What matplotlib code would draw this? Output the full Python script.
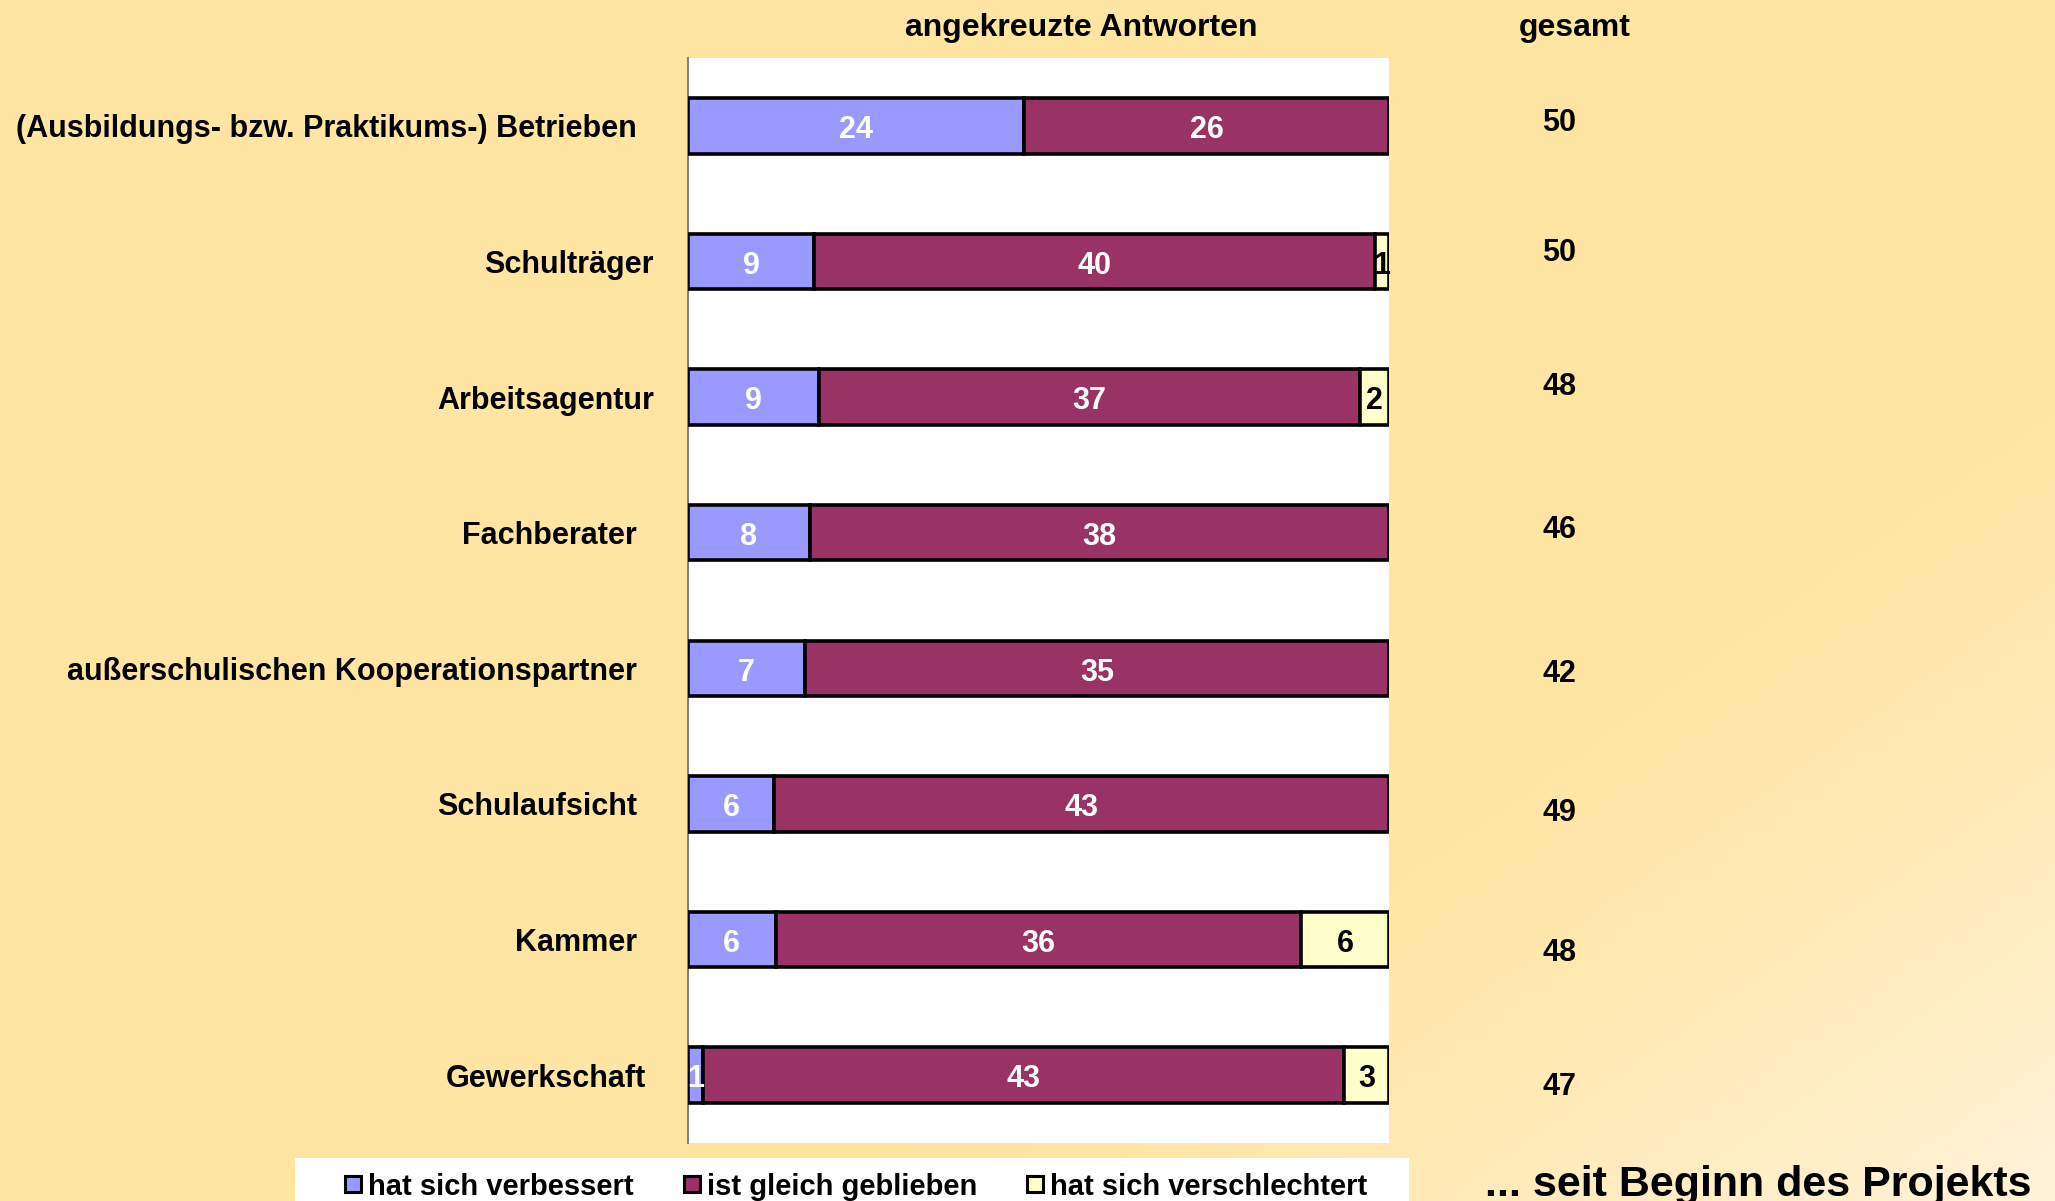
import numpy as np
import matplotlib; matplotlib.use('Agg')
import matplotlib.pyplot as plt
from matplotlib import font_manager as fm
from matplotlib.patches import Rectangle

# в”Җв”Җ data в”Җв”Җ
categories = ['(Ausbildungs- bzw. Praktikums-) Betrieben', 'Schulträger', 'Arbeitsagentur',
              'Fachberater', 'außerschulischen Kooperationspartner', 'Schulaufsicht',
              'Kammer', 'Gewerkschaft']
improved = [24, 9, 9, 8, 7, 6, 6, 1]
same = [26, 40, 37, 38, 35, 43, 36, 43]
worse = [0, 1, 2, 0, 0, 0, 6, 3]
totals = [50, 50, 48, 46, 42, 49, 48, 47]
series_names = ['hat sich verbessert', 'ist gleich geblieben', 'hat sich verschlechtert']

colors = ['#9999ff', '#993366', '#ffffcc']
label_colors = ['white', 'white', 'black']

names = {f.name for f in fm.fontManager.ttflist}
base = 'Liberation Sans' if 'Liberation Sans' in names else 'DejaVu Sans'
plt.rcParams['font.family'] = [base, 'DejaVu Sans']
plt.rcParams['font.weight'] = 'bold'

W, H = 2055, 1201
fig = plt.figure(figsize=(W / 100, H / 100), dpi=100)

# в”Җв”Җ background gradient в”Җв”Җ
bg_ax = fig.add_axes([0, 0, 1, 1], zorder=-10)
xx, yy = np.meshgrid(np.linspace(0, 1, 400), np.linspace(0, 1, 240))
u = 0.55 * xx + 0.45 * yy
t = np.clip((u - 0.65) / 0.35, 0, 1) ** 1.5
c0 = np.array([255, 229, 162]) / 255
c1 = np.array([255, 244, 218]) / 255
img = c0[None, None, :] * (1 - t[..., None]) + c1[None, None, :] * t[..., None]
bg_ax.imshow(img, extent=[0, 1, 0, 1], aspect='auto', origin='upper')
bg_ax.axis('off')

# в”Җв”Җ main axes в”Җв”Җ
ax = fig.add_axes([688 / W, 1 - 1143 / H, 701 / W, (1143 - 58) / H])
ax.set_facecolor('white')

tot = np.array(improved) + np.array(same) + np.array(worse)
y = np.arange(len(categories))
left = np.zeros(len(categories))
for vals, col, lc in zip([improved, same, worse], colors, label_colors):
    vals = np.array(vals)
    pct = vals / tot * 100
    bars = ax.barh(y, pct, left=left, height=0.41, color=col,
                   edgecolor='black', linewidth=2.6, zorder=3)
    for b, v in zip(bars, vals):
        if v > 0:
            ax.text(b.get_x() + b.get_width() / 2, b.get_y() + b.get_height() / 2 + 0.09,
                    str(v), ha='center', va='baseline', color=lc,
                    fontsize=22, fontweight='bold', zorder=4)
    left += pct

ax.set_xlim(0, 100)
ax.set_ylim(len(categories) - 0.5, -0.5)
ax.set_xticks([]); ax.set_yticks([])
for s in ['top', 'right', 'bottom']:
    ax.spines[s].set_visible(False)
ax.spines['left'].set_color('#808080')
ax.spines['left'].set_linewidth(1.5)

# category labels (right edges slightly uneven as in the original)
label_right = [637, 654, 654, 637, 637, 637, 637, 646]
for i, (cat, xr) in enumerate(zip(categories, label_right)):
    ax.text((xr - 688) / 701, i + 0.085, cat, transform=ax.get_yaxis_transform(),
            ha='right', va='baseline', fontsize=22, fontweight='bold', clip_on=False)

# headers
fig.text(1081.5 / W, 1 - 36 / H, 'angekreuzte Antworten', ha='center', va='baseline',
         fontsize=23, fontweight='bold')
fig.text(1575 / W, 1 - 36 / H, 'gesamt', ha='center', va='baseline',
         fontsize=23, fontweight='bold')

# totals column
total_base = [131, 261, 395, 538, 682, 821, 961, 1095]
for v, ty in zip(totals, total_base):
    fig.text(1559.5 / W, 1 - ty / H, str(v), ha='center', va='baseline',
             fontsize=22, fontweight='bold')

# в”Җв”Җ legend в”Җв”Җ
fig.patches.append(Rectangle((295 / W, 0), (1409 - 295) / W, (1201 - 1158) / H,
                             transform=fig.transFigure, facecolor='white',
                             edgecolor='none', zorder=1))
marker_x = [345, 684, 1027]
for mx, col, name in zip(marker_x, colors, series_names):
    fig.patches.append(Rectangle((mx / W, 1 - 1192 / H), 16 / W, 16 / H,
                                 transform=fig.transFigure, facecolor=col,
                                 edgecolor='black', linewidth=2.2, zorder=2))
    fig.text((mx + 23) / W, 1 - 1195 / H, name, ha='left', va='baseline',
             fontsize=21, fontweight='bold', zorder=3)

fig.text(1758 / W, 1 - 1196 / H, '... seit Beginn des Projekts', ha='center',
         va='baseline', fontsize=31, fontweight='bold')

fig.savefig('out.png', dpi=100)
